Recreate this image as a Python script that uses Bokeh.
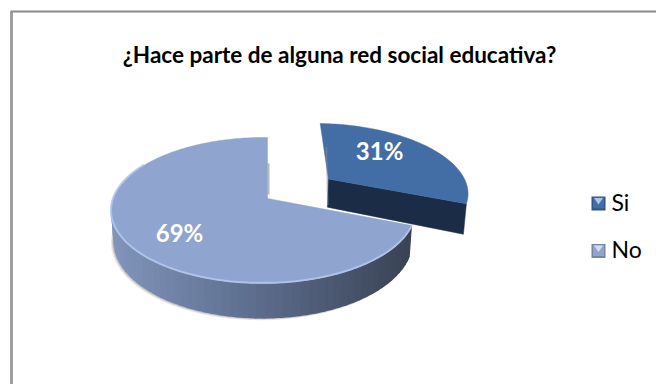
import numpy as np
from bokeh.core.properties import value
from bokeh.embed import file_html
from bokeh.models import Range1d
from bokeh.plotting import figure
from bokeh.resources import INLINE

# Survey answers
TITLE = "¿Hace parte de alguna red social educativa?"
categories = ["Si", "No"]
shares = [31, 69]
label_texts = ["31%", "69%"]

# Slice colours: top face, cut face / legend edge, legend highlight
top_colors = ["#436ea5", "#8fa5cf"]
cut_color = "#1a2c46"
legend_lights = ["#a9c6ea", "#d5def0"]
legend_darks = ["#2f5688", "#7286a8"]

FONT = "Lato"

# Perspective of the tilted disc, in page pixels
CX, CY = 267.0, 198.0
A, B = 150.0, 71.0
K, M = 0.164, 0.028
EXPLODE = 0.52


def project(u, v):
    w = 1 + K * v + M * u
    return CX + A * u / w, CY - B * v / w


def lower(x, v, extra=0.0):
    """Offset of the bottom rim for a point of the top rim."""
    return x - (x - CX) * 0.015, 29.0 - 6.0 * v + extra


def lerp_hex(c0, c1, t):
    a = np.array([int(c0[i:i + 2], 16) for i in (1, 3, 5)], dtype=float)
    b = np.array([int(c1[i:i + 2], 16) for i in (1, 3, 5)], dtype=float)
    r = a + (b - a) * t
    return "#%02x%02x%02x" % tuple(int(round(n)) for n in r)


p = figure(width=656, height=384, output_backend="svg", toolbar_location=None,
           x_range=Range1d(0, 656), y_range=Range1d(384, 0),
           min_border=0, background_fill_color="white", border_fill_color="white")
p.axis.visible = False
p.grid.visible = False
p.outline_line_color = None

# Chart frame: only the top and left edges are visible
p.line([11, 11], [11, 384], line_color="#a0a0a0", line_width=3)
p.line([10, 656], [11, 11], line_color="#8a8a8a", line_width=2)

fracs = np.array(shares, dtype=float) / sum(shares)
small_sweep = 2 * np.pi * fracs[0]

# Exploded slice: drawn first, the larger one overlaps its cut face
mid = small_sweep / 2
u0, v0 = EXPLODE * np.sin(mid), EXPLODE * np.cos(mid)
t = np.linspace(0, small_sweep, 80)
us, vs = u0 + np.sin(t), v0 + np.cos(t)
xs, ys = project(us, vs)
vx, vy = project(u0, v0)
ex, ey, ev = xs[-1], ys[-1], vs[-1]
bvx, dv = lower(vx, v0, 1.0)
bex, de = lower(ex, ev, 1.0)
p.patch([vx, ex, bex, bvx], [vy, ey, ey + de, vy + dv],
        fill_color=cut_color, line_color=cut_color, line_width=0.5)
p.patch(np.r_[vx, xs], np.r_[vy, ys], fill_color=top_colors[0],
        line_color=top_colors[0], line_width=0.5)

# Larger slice: rim positions around the visible wall
t = np.linspace(small_sweep, 2 * np.pi, 260)
ub, vb = np.sin(t), np.cos(t)
xb, yb = project(ub, vb)
wall = t < np.radians(300)
xw, yw, vw = xb[wall], yb[wall], vb[wall]
bx, dy = lower(xw, vw)
by = yw + dy

# Soft cast shadow under the wall
for off, alpha in [(3.0, 0.10), (2.0, 0.14), (1.0, 0.18)]:
    p.patch(np.r_[xw, bx[::-1] - off * 0.8], np.r_[yw, by[::-1] + off * 0.6],
            fill_color="#555555", fill_alpha=alpha, line_color=None)

# Wall shaded from left to right, in solid overlapping strips
xl, xr = xw.min(), xw.max()
step = 3
for i in range(0, len(xw) - 1, step):
    j = min(i + step + 1, len(xw) - 1)
    s = (0.5 * (xw[i] + xw[j]) - xl) / (xr - xl)
    if s < 0.5:
        col = lerp_hex("#8195bb", "#5a6b8a", s / 0.5)
    else:
        col = lerp_hex("#5a6b8a", "#3a4254", (s - 0.5) / 0.5)
    p.patch(np.r_[xw[i:j + 1], bx[i:j + 1][::-1]], np.r_[yw[i:j + 1], by[i:j + 1][::-1]],
            fill_color=col, line_color=None)

# Shadow on the inner cut beside the notch
nx, ny = project(0, 1)
p.line([nx + 1, CX + 1], [ny + 26, CY - 4], line_color="#77808f", line_width=2.0, line_alpha=0.55)
p.line([vx - 2.0, vx - 0.5], [vy - 32, vy + 26], line_color="#8a8f98", line_width=1.5, line_alpha=0.5)

# Top face and its bevelled rim
p.patch(np.r_[CX, xb], np.r_[CY, yb], fill_color=top_colors[1],
        line_color=top_colors[1], line_width=0.5)
p.line(xw, yw - 0.6, line_color="#b4c8ec", line_width=2.0, line_alpha=0.85)

# Value labels on the slices
lx0, ly0 = project(u0 + 0.60 * np.sin(mid), v0 + 0.60 * np.cos(mid))
big_mid = small_sweep + np.pi * 2 * fracs[1] / 2
lx1, ly1 = project(0.69 * np.sin(big_mid), 0.69 * np.cos(big_mid))
p.text([lx0, lx1], [ly0, ly1], text=label_texts, text_color="white",
       text_font=value(FONT), text_font_style="bold", text_font_size="24px",
       text_align="center", text_baseline="middle",
       x_offset=[-11, 5], y_offset=[-8, 4])

# Title
p.text([339], [54], text=[TITLE], text_color="black", text_font=value(FONT),
       text_font_style="bold", text_font_size="22.5px",
       text_align="center", text_baseline="middle")

# Legend with bevelled swatches
SW = 14
for name, top, light, dark, y in zip(categories, top_colors, legend_lights, legend_darks, [203, 250.5]):
    x0, x1 = 591, 591 + SW
    y0, y1 = y - SW / 2, y + SW / 2
    xc = (x0 + x1) / 2
    p.patch([x0, x1, x1, x0], [y0, y0, y1, y1], fill_color=dark, line_color=None)
    p.patch([x0 + 1.5, x1 - 1.5, x1 - 1.5, x0 + 1.5], [y0 + 1, y0 + 1, y1 - 2, y1 - 2],
            fill_color=top, line_color=None)
    p.patch([x0 + 2.5, x1 - 2.5, xc], [y0 + 1.5, y0 + 1.5, y + 1], fill_color=light, line_color=None)
    p.text([611], [y - 2], text=[name], text_color="black", text_font=value(FONT),
           text_font_size="23px", text_align="left", text_baseline="middle")

open("out.html", "w").write(file_html(p, INLINE))
